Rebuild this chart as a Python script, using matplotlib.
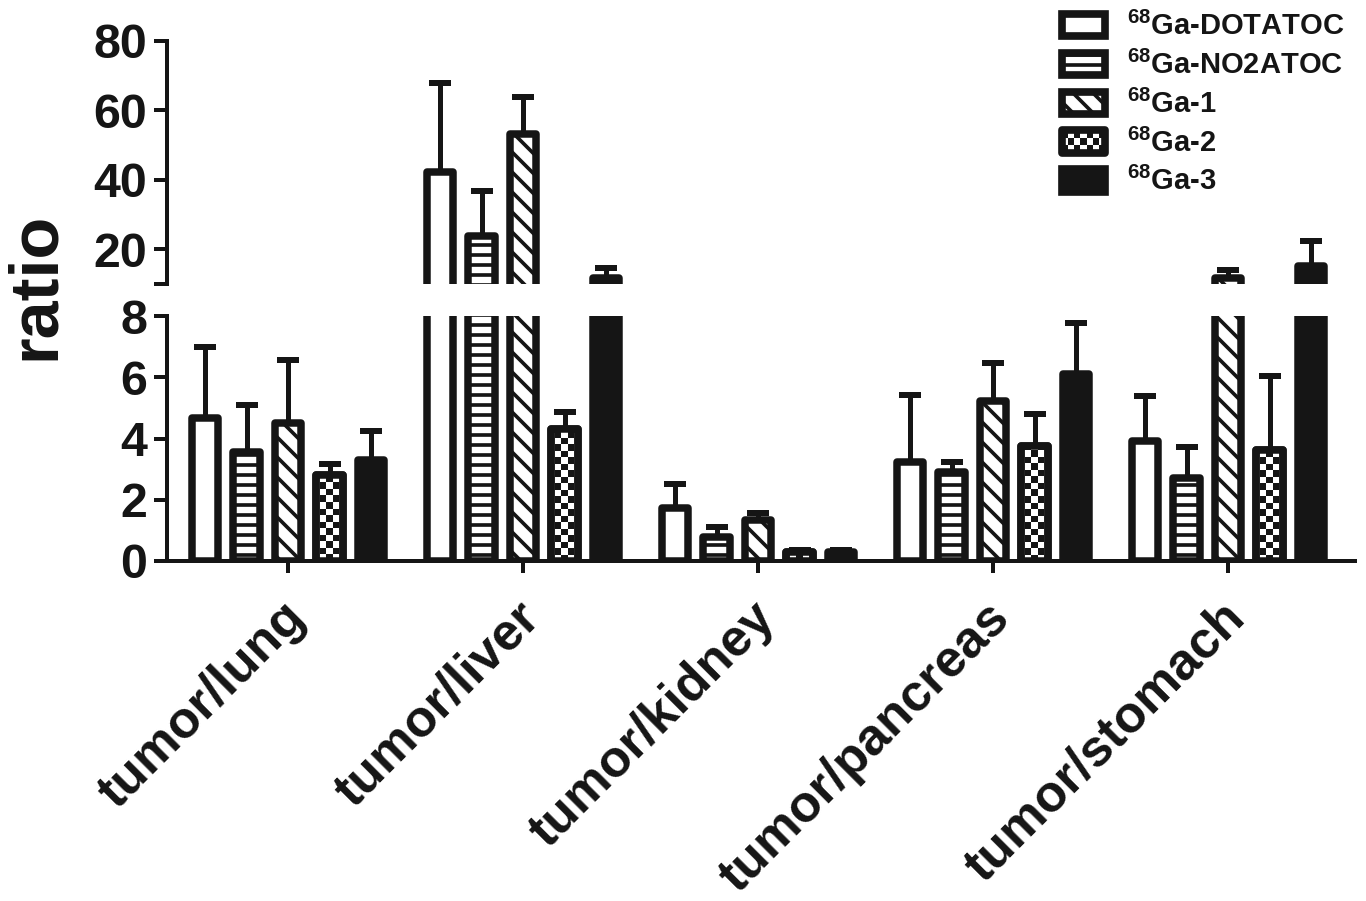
import matplotlib
matplotlib.use('Agg')
import matplotlib.pyplot as plt
import numpy as np
from matplotlib.patches import Rectangle, Patch
from matplotlib.legend_handler import HandlerBase
from matplotlib.colors import ListedColormap
from matplotlib.transforms import ScaledTranslation

# ---------------- data ----------------
categories = ['tumor/lung', 'tumor/liver', 'tumor/kidney', 'tumor/pancreas', 'tumor/stomach']
series_labels = [r'$^{68}$Ga-DOTATOC', r'$^{68}$Ga-NO2ATOC', r'$^{68}$Ga-1', r'$^{68}$Ga-2', r'$^{68}$Ga-3']

dotatoc = [4.67, 42.4, 1.73, 3.23, 3.92]
dotatoc_sd = [2.32, 25.5, 0.77, 2.19, 1.47]
no2atoc = [3.56, 23.7, 0.80, 2.90, 2.71]
no2atoc_sd = [1.53, 13.2, 0.30, 0.33, 1.01]
ga1 = [4.50, 53.3, 1.35, 5.22, 11.7]
ga1_sd = [2.06, 10.6, 0.22, 1.24, 2.3]
ga2 = [2.81, 4.31, 0.28, 3.75, 3.62]
ga2_sd = [0.36, 0.55, 0.07, 1.05, 2.42]
ga3 = [3.30, 11.8, 0.28, 6.10, 15.1]
ga3_sd = [0.94, 2.7, 0.07, 1.67, 7.2]

lower_ticks = [0, 2, 4, 6, 8]
upper_ticks = [10, 20, 40, 60, 80]
upper_ticklabels = ['', '20', '40', '60', '80']

# ---------------- style ----------------
DPI = 120
W, H = 1366, 901
K = '#151515'
plt.rcParams['font.family'] = ['Liberation Sans', 'DejaVu Sans']
plt.rcParams['font.weight'] = 'bold'
plt.rcParams['mathtext.fontset'] = 'custom'
plt.rcParams['mathtext.rm'] = 'Liberation Sans'
plt.rcParams['mathtext.default'] = 'rm'
plt.rcParams['hatch.linewidth'] = 2.2
plt.rcParams['hatch.color'] = K

fig = plt.figure(figsize=(W / DPI, H / DPI), dpi=DPI)

def fx(px):
    return px / W

def fy(py):
    return 1 - py / H

x_left, x_right = 167, 1355
ax_lo = fig.add_axes([fx(x_left), fy(561), fx(x_right) - fx(x_left), fy(316) - fy(561)])
ax_hi = fig.add_axes([fx(x_left), fy(284), fx(x_right) - fx(x_left), fy(41) - fy(284)])

values = [dotatoc, no2atoc, ga1, ga2, ga3]
sds = [dotatoc_sd, no2atoc_sd, ga1_sd, ga2_sd, ga3_sd]
hatches = [None, '--', '\\\\', None, None]
faces = ['white', 'white', 'white', 'white', K]

step = 0.1766
bw = 0.112
blw = 4.5
group_x = np.arange(len(categories))
checker_cmap = ListedColormap(['white', K])

for ax in (ax_lo, ax_hi):
    for i in range(5):
        xs = group_x + (i - 2) * step
        vals = np.array(values[i])
        err = np.array(sds[i])
        ax.errorbar(xs, vals, yerr=[np.zeros_like(err), err], fmt='none', ecolor=K,
                    elinewidth=3.0, capsize=6.6, capthick=3.6, zorder=2)
        bars = ax.bar(xs, vals, width=bw, facecolor=faces[i], edgecolor=K, linewidth=blw,
                      hatch=hatches[i], zorder=3, joinstyle='round')
        if i == 3 and ax is ax_lo:
            # checkerboard fill, clipped to the bar
            sq_h = 0.212
            half_in = bw / 2 - (blw * DPI / 72 / 2) / 235.0
            for b, xc, v in zip(bars, xs, vals):
                nrows = int(np.ceil(v / sq_h)) + 1
                arr = np.add.outer(np.arange(nrows), np.arange(3)) % 2
                im = ax.imshow(arr, cmap=checker_cmap, vmin=0, vmax=1, origin='lower',
                               extent=[xc - half_in, xc + half_in, 0, nrows * sq_h],
                               aspect='auto', interpolation='nearest', zorder=3.1)
                im.set_clip_path(b)
            ax.bar(xs, vals, width=bw, facecolor='none', edgecolor=K, linewidth=blw,
                   zorder=3.2, joinstyle='round')
    ax.set_xlim(-0.515, 4.54)

ax_lo.set_ylim(0, 8)
ax_hi.set_ylim(10, 80)
ax_lo.set_yticks(lower_ticks)
ax_lo.set_yticklabels([str(t) for t in lower_ticks])
ax_hi.set_yticks(upper_ticks)
ax_hi.set_yticklabels(upper_ticklabels)

for ax in (ax_lo, ax_hi):
    ax.spines['top'].set_visible(False)
    ax.spines['right'].set_visible(False)
    ax.spines['left'].set_linewidth(2.4)
    ax.spines['bottom'].set_linewidth(2.4)
    ax.spines['left'].set_color(K)
    ax.spines['bottom'].set_color(K)
    ax.tick_params(axis='y', length=7.8, width=2.4, labelsize=29, pad=4, colors=K)
    ax.patch.set_alpha(0)

ax_hi.spines['bottom'].set_visible(False)
ax_hi.set_xticks([])

ax_lo.set_xticks(group_x)
ax_lo.set_xticklabels(categories, rotation=45, ha='right', va='top', rotation_mode='anchor',
                      fontsize=31, fontweight='bold')
ax_lo.tick_params(axis='x', length=7.2, width=2.4, pad=12, colors=K)
offset = ScaledTranslation(-8 / DPI, 0, fig.dpi_scale_trans)
for lab in ax_lo.get_xticklabels():
    lab.set_transform(lab.get_transform() + offset)

fig.text(fx(36), fy(286), 'ratio', rotation=90, ha='center', va='center',
         fontsize=41, fontweight='bold', color=K)


# ---------------- legend ----------------
LEG_LW = 4.6


class CheckerHandler(HandlerBase):
    def create_artists(self, legend, orig_handle, xdescent, ydescent, width, height,
                       fontsize, trans):
        x0, y0 = -xdescent, -ydescent
        arts = [Rectangle((x0, y0), width, height, facecolor='white', edgecolor='none',
                          transform=trans)]
        nr, nc = 3, 7
        cw, ch = width / nc, height / nr
        for r in range(nr):
            for c in range(nc):
                if (r + c) % 2 == 0:
                    arts.append(Rectangle((x0 + c * cw, y0 + r * ch), cw, ch, facecolor=K,
                                          edgecolor='none', transform=trans))
        arts.append(Rectangle((x0, y0), width, height, facecolor='none', edgecolor=K,
                              linewidth=LEG_LW, joinstyle='round', transform=trans))
        return arts


handles = []
for i in range(5):
    handles.append(Patch(facecolor=faces[i], edgecolor=K, linewidth=LEG_LW,
                         hatch=hatches[i], joinstyle='round'))
handler_map = {handles[3]: CheckerHandler()}
leg = ax_hi.legend(handles, series_labels, handler_map=handler_map, loc='upper left',
                   bbox_to_anchor=(fx(1062), fy(12)), bbox_transform=fig.transFigure,
                   frameon=False, prop={'weight': 'bold', 'size': 17.5},
                   handlelength=1.47, handleheight=0.8, handletextpad=0.75,
                   labelspacing=0.33, borderpad=0, borderaxespad=0)
for t in leg.get_texts():
    t.set_color(K)

fig.savefig('out.png', dpi=DPI)
